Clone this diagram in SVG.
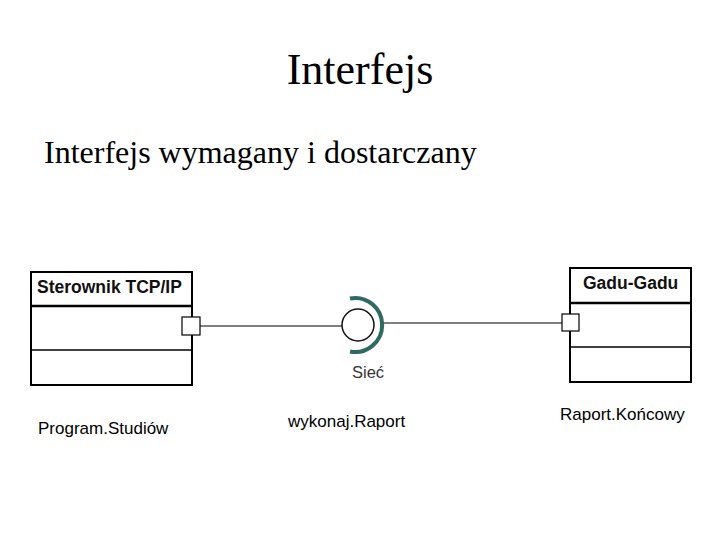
<svg xmlns="http://www.w3.org/2000/svg" width="720" height="540" viewBox="0 0 720 540">
<style>
.title{font-family:"Liberation Serif",serif;fill:#000}
.cls{fill:#fff;stroke:#000;stroke-width:2}
.sep{stroke:#000;stroke-width:2.5}
.sep2{stroke:#000;stroke-width:1.5}
.cname{font-family:"Liberation Sans",Arial,sans-serif;font-weight:bold;font-size:17.5px;fill:#111}
.lbl{font-family:"Liberation Sans",Arial,sans-serif;font-size:17px;fill:#000}
.port{fill:#fff;stroke:#000;stroke-width:1.2}
.conn{stroke:#000;stroke-width:1.2;fill:none}
</style>
<rect width="720" height="540" fill="#fff"/>
<text class="title" x="360" y="84" font-size="44" text-anchor="middle">Interfejs</text>
<text class="title" x="44" y="163" font-size="32">Interfejs wymagany i dostarczany</text>
<g id="connectors">
<line class="conn" x1="200" y1="326" x2="342" y2="326"/>
<line class="conn" x1="382" y1="323" x2="562" y2="323"/>
</g>
<g id="sterownik">
<rect class="cls" x="31" y="272" width="161" height="113"/>
<line class="sep" x1="31" y1="306" x2="192" y2="306"/>
<line class="sep2" x1="31" y1="350" x2="192" y2="350"/>
<text class="cname" x="37" y="293">Sterownik TCP/IP</text>
<rect class="port" x="182" y="317" width="18" height="18"/>
</g>
<g id="siec">
<circle cx="358" cy="325" r="16" fill="#fff" stroke="#111" stroke-width="1.5"/>
<path d="M350 298.5 A 27 27 0 1 1 350 351.5" fill="none" stroke="#2e6a60" stroke-width="4"/>
<text x="352" y="378" font-family="Liberation Sans,Arial,sans-serif" font-size="16.5" fill="#333">Sieć</text>
</g>
<g id="gadu">
<rect class="cls" x="570" y="268" width="121" height="114"/>
<line class="sep" x1="570" y1="303" x2="691" y2="303"/>
<line class="sep2" x1="570" y1="347" x2="691" y2="347"/>
<text class="cname" x="583" y="289">Gadu-Gadu</text>
<rect class="port" x="562" y="314" width="17" height="17"/>
</g>
<text class="lbl" x="38" y="434">Program.Studiów</text>
<text class="lbl" x="288" y="427">wykonaj.Raport</text>
<text class="lbl" x="560" y="420">Raport.Końcowy</text>
</svg>
